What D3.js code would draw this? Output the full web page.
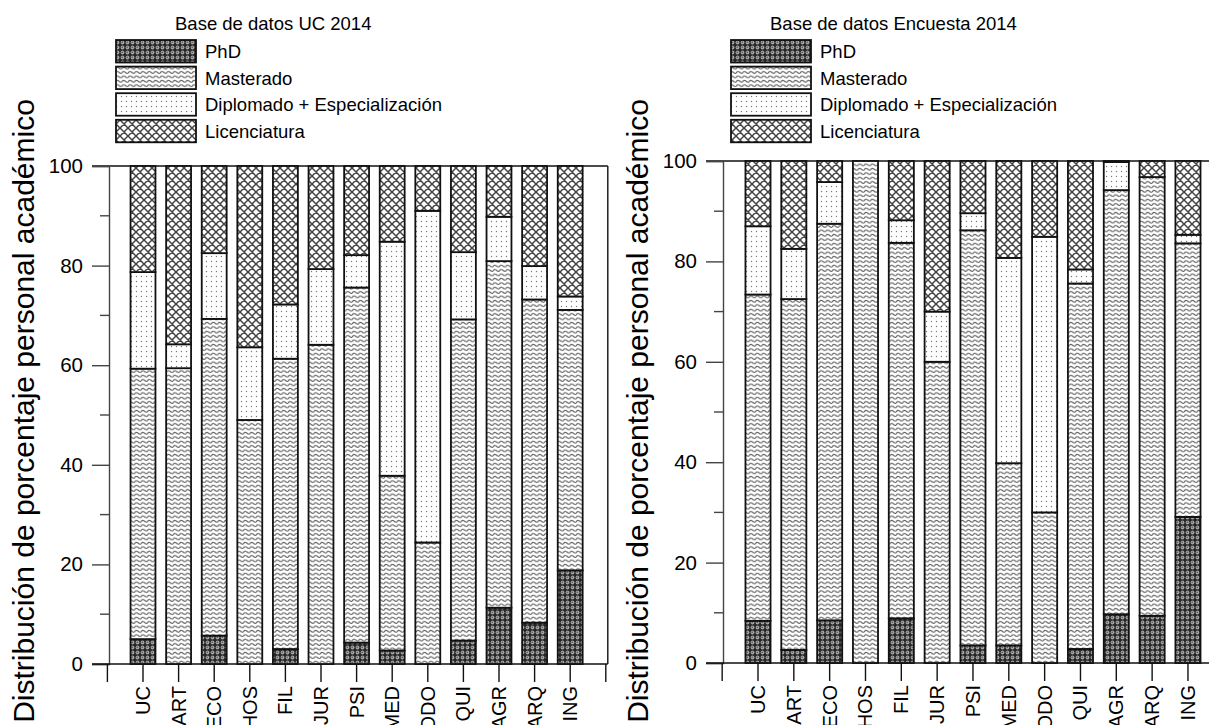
<!DOCTYPE html>
<html>
<head>
<meta charset="utf-8">
<script src="https://cdn.jsdelivr.net/npm/d3@7"></script>
<style>
  html, body { margin: 0; padding: 0; background: #fff; }
  svg { display: block; font-family: "Liberation Sans", Arial, sans-serif; }
</style>
</head>
<body>
<svg id="chart" width="1209" height="725"></svg>
<script>
// Faculties / units on the x axis
const categories = ["UC", "ART", "ECO", "HOS", "FIL", "JUR", "PSI", "MED", "ODO", "QUI", "AGR", "ARQ", "ING"];
const seriesNames = ["PhD", "Masterado", "Diplomado + Especialización", "Licenciatura"];
const yTicks = [0, 20, 40, 60, 80, 100];
const yMinorTicks = [10, 30, 50, 70, 90];

// Base de datos UC 2014 (% of academic staff per degree)
const ucPhD          = [5.0, 0.0, 5.7, 0.0, 3.0, 0.0, 4.3, 2.7, 0.0, 4.7, 11.3, 8.3, 18.8];
const ucMasterado    = [54.3, 59.4, 63.6, 49.0, 58.3, 64.1, 71.3, 35.1, 24.4, 64.5, 69.6, 64.9, 52.3];
const ucDiplomado    = [19.4, 4.8, 13.2, 14.6, 10.9, 15.2, 6.5, 47.0, 66.6, 13.5, 8.9, 6.7, 2.7];
const ucLicenciatura = [21.3, 35.8, 17.5, 36.4, 27.8, 20.7, 17.9, 15.2, 9.0, 17.3, 10.2, 20.1, 26.2];

// Base de datos Encuesta 2014
const enPhD          = [8.4, 2.6, 8.5, 0.0, 8.9, 0.0, 3.5, 3.5, 0.0, 2.8, 9.7, 9.4, 29.1];
const enMasterado    = [65.0, 69.9, 79.0, 100.0, 74.8, 60.0, 82.7, 36.3, 30.0, 72.8, 84.5, 87.4, 54.5];
const enDiplomado    = [13.6, 10.0, 8.3, 0.0, 4.5, 10.0, 3.4, 40.9, 54.9, 2.8, 5.6, 0.0, 1.7];
const enLicenciatura = [13.0, 17.5, 4.2, 0.0, 11.8, 30.0, 10.4, 19.3, 15.1, 21.6, 0.2, 3.2, 14.7];

const svg = d3.select("#chart");
const defs = svg.append("defs");

// ---- fill patterns --------------------------------------------------------
// PhD: dark ground with grey balls
const pPhd = defs.append("pattern").attr("id", "pat-phd")
  .attr("patternUnits", "userSpaceOnUse").attr("width", 5).attr("height", 5);
pPhd.append("rect").attr("width", 5).attr("height", 5).attr("fill", "#262626");
pPhd.append("circle").attr("cx", 2.5).attr("cy", 2.5).attr("r", 1.9).attr("fill", "#a4a4a4");
pPhd.append("circle").attr("cx", 2.2).attr("cy", 2.2).attr("r", 0.8).attr("fill", "#555");

// Masterado: horizontal waves
const pMas = defs.append("pattern").attr("id", "pat-mas")
  .attr("patternUnits", "userSpaceOnUse").attr("width", 6.4).attr("height", 4.4);
pMas.append("rect").attr("width", 6.4).attr("height", 4.4).attr("fill", "#fff");
pMas.append("path")
  .attr("d", "M0,2.9 Q1.6,0.3 3.2,1.6 Q4.8,3.4 6.4,2.9 M0,2.9 Q-1,2.4 -1.6,1.6 M6.4,2.9 Q7.4,2.4 8,1.6")
  .attr("fill", "none").attr("stroke", "#666").attr("stroke-width", 1.2);

// Diplomado + Especialización: sparse dots
const pDip = defs.append("pattern").attr("id", "pat-dip")
  .attr("patternUnits", "userSpaceOnUse").attr("width", 5).attr("height", 5);
pDip.append("rect").attr("width", 5).attr("height", 5).attr("fill", "#fff");
pDip.append("circle").attr("cx", 1.5).attr("cy", 1.5).attr("r", 0.7).attr("fill", "#7a7a7a");

// Licenciatura: diagonal cross-hatch
const pLic = defs.append("pattern").attr("id", "pat-lic")
  .attr("patternUnits", "userSpaceOnUse").attr("width", 8).attr("height", 8);
pLic.append("rect").attr("width", 8).attr("height", 8).attr("fill", "#fff");
pLic.append("path")
  .attr("d", "M0,0 L8,8 M8,0 L0,8 M-1,7 L1,9 M7,-1 L9,1 M-1,1 L1,-1 M7,9 L9,7")
  .attr("fill", "none").attr("stroke", "#444").attr("stroke-width", 1.5);

const patternIds = ["pat-phd", "pat-mas", "pat-dip", "pat-lic"];

// ---- panel drawing --------------------------------------------------------
function drawPanel(cfg) {
  const g = svg.append("g");
  const y = d3.scaleLinear().domain([0, 100]).range([cfg.yBottom, cfg.yTop]);
  const step = cfg.step;
  const x = d3.scaleBand().domain(categories)
    .range([cfg.firstCat - step / 2, cfg.firstCat - step / 2 + step * categories.length])
    .paddingInner(0.3).paddingOuter(0.15);
  const axisLeft = cfg.firstCat - step;
  const axisRight = cfg.firstCat + step * categories.length;

  // stacked data
  const rows = categories.map((c, i) => {
    const r = { cat: c };
    seriesNames.forEach((s, k) => { r[s] = cfg.series[k][i]; });
    return r;
  });
  const stacked = d3.stack().keys(seriesNames)(rows);

  // frame lines: top (100) and right
  g.append("line").attr("x1", cfg.yAxisX - 17).attr("x2", axisRight + 2)
    .attr("y1", y(100)).attr("y2", y(100)).attr("stroke", "#111").attr("stroke-width", 1.4);
  g.append("line").attr("x1", axisRight + 2).attr("x2", axisRight + 2)
    .attr("y1", y(100)).attr("y2", y(0)).attr("stroke", "#111").attr("stroke-width", 1.4);

  // y axis
  const yAxis = d3.axisLeft(y).tickValues(yTicks).tickSize(17).tickPadding(9)
    .tickFormat(d3.format("d"));
  const ya = g.append("g").attr("transform", `translate(${cfg.yAxisX},0)`).call(yAxis);
  ya.select(".domain").attr("stroke", "#444").attr("stroke-width", 1.4);
  ya.selectAll(".tick line").attr("stroke", "#444").attr("stroke-width", 1.4);
  ya.selectAll(".tick text").attr("font-size", 20.5).attr("fill", "#000")
    .attr("font-family", "Liberation Sans, Arial, sans-serif");
  g.append("g").selectAll("line").data(yMinorTicks).join("line")
    .attr("x1", cfg.yAxisX - 9).attr("x2", cfg.yAxisX)
    .attr("y1", d => y(d)).attr("y2", d => y(d))
    .attr("stroke", "#444").attr("stroke-width", 1.4);

  // x axis baseline with category ticks
  g.append("line").attr("x1", cfg.yAxisX - 17).attr("x2", axisRight + 2)
    .attr("y1", y(0)).attr("y2", y(0)).attr("stroke", "#111").attr("stroke-width", 1.4);
  const xa = g.append("g").attr("transform", `translate(0,${y(0)})`)
    .call(d3.axisBottom(x).tickSize(18).tickPadding(4));
  xa.select(".domain").remove();
  xa.selectAll(".tick line").attr("stroke", "#111").attr("stroke-width", 1.4);
  xa.selectAll(".tick text")
    .attr("font-size", 20).attr("fill", "#000")
    .attr("font-family", "Liberation Sans, Arial, sans-serif")
    .attr("text-anchor", "end")
    .attr("dy", null)
    .attr("dominant-baseline", "central")
    .attr("transform", "translate(0,22) rotate(-90)")
    .attr("x", 0).attr("y", 0);
  [axisLeft, axisRight].forEach(px => {
    g.append("line").attr("x1", px).attr("x2", px)
      .attr("y1", y(0)).attr("y2", y(0) + 18).attr("stroke", "#111").attr("stroke-width", 1.4);
  });

  // bars
  stacked.forEach((layer, k) => {
    g.append("g").selectAll("rect").data(layer.filter(d => d[1] - d[0] > 0)).join("rect")
      .attr("x", d => x(d.data.cat))
      .attr("width", x.bandwidth())
      .attr("y", d => y(d[1]))
      .attr("height", d => y(d[0]) - y(d[1]))
      .attr("fill", `url(#${patternIds[k]})`)
      .attr("stroke", "#111")
      .attr("stroke-width", 1.8);
  });

  // y axis title
  g.append("text")
    .attr("transform", `translate(${cfg.titleX},${cfg.titleY}) rotate(-90)`)
    .attr("text-anchor", "middle")
    .attr("font-size", 30)
    .text("Distribución de porcentaje personal académico");

  // legend
  const lg = g.append("g");
  lg.append("text").attr("x", cfg.legendTitleX).attr("y", 30)
    .attr("font-size", 18.5).text(cfg.legendTitle);
  const rowStep = 26.6;
  seriesNames.forEach((s, k) => {
    const top = 40 + k * rowStep;
    lg.append("rect").attr("x", cfg.legendX).attr("y", top)
      .attr("width", 80).attr("height", 22.5)
      .attr("fill", `url(#${patternIds[k]})`)
      .attr("stroke", "#111").attr("stroke-width", 1.8);
    lg.append("text").attr("x", cfg.legendX + 89).attr("y", top + 18)
      .attr("font-size", 18.5).text(s);
  });
}

drawPanel({
  series: [ucPhD, ucMasterado, ucDiplomado, ucLicenciatura],
  legendTitle: "Base de datos UC 2014",
  yAxisX: 109, yTop: 166, yBottom: 664,
  firstCat: 143, step: 35.6,
  titleX: 34, titleY: 411,
  legendX: 116, legendTitleX: 175
});

drawPanel({
  series: [enPhD, enMasterado, enDiplomado, enLicenciatura],
  legendTitle: "Base de datos Encuesta 2014",
  yAxisX: 723, yTop: 161, yBottom: 663,
  firstCat: 758, step: 35.83,
  titleX: 648, titleY: 411,
  legendX: 731, legendTitleX: 770
});
</script>
</body>
</html>
